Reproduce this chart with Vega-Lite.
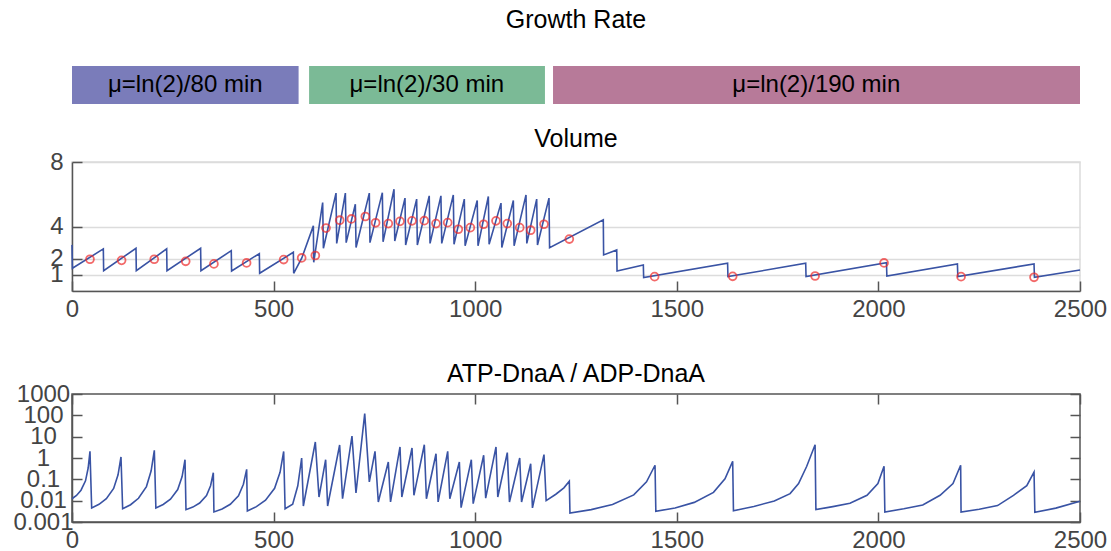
{
  "$schema": "https://vega.github.io/schema/vega-lite/v6.json",
  "padding": {"left": 12, "top": 8, "right": 0, "bottom": 0},
  "background": "white",
  "config": {
    "font": "Liberation Sans",
    "view": {"stroke": null},
    "title": {"font": "Liberation Sans", "fontSize": 25, "fontWeight": "normal", "color": "#000000", "anchor": "middle"},
    "axis": {"labelFont": "Liberation Sans", "labelFontSize": 24, "labelColor": "#444444", "domainColor": "#555555", "domainWidth": 1.5, "tickColor": "#555555", "tickWidth": 1.5, "tickSize": -10, "labelPadding": 16, "grid": false, "labelFlush": false, "labelOverlap": false}
  },
  "datasets": {
    "rates": [
      {"start": 0, "end": 562, "mid": 281, "label": "μ=ln(2)/80 min"},
      {"start": 588, "end": 1173, "mid": 880, "label": "μ=ln(2)/30 min"},
      {"start": 1193, "end": 2500, "mid": 1846, "label": "μ=ln(2)/190 min"}
    ],
    "vol": [
      {"t": 0, "v": 2.86}, {"t": 1, "v": 1.41},
      {"t": 77.7, "v": 2.61}, {"t": 78.5, "v": 1.26},
      {"t": 158.7, "v": 2.65}, {"t": 159.5, "v": 1.26},
      {"t": 234.8, "v": 2.61}, {"t": 235.6, "v": 1.26},
      {"t": 319, "v": 2.65}, {"t": 319.8, "v": 1.26},
      {"t": 395, "v": 2.5}, {"t": 395.8, "v": 1.24},
      {"t": 464.6, "v": 2.32}, {"t": 465.4, "v": 1.1},
      {"t": 549, "v": 2.4}, {"t": 549.8, "v": 1.1},
      {"t": 570, "v": 2.05}, {"t": 598.6, "v": 4.04}, {"t": 599.5, "v": 1.78},
      {"t": 621.7, "v": 5.48}, {"t": 623.5, "v": 2.65},
      {"t": 654.8, "v": 6.07}, {"t": 656.5, "v": 2.95},
      {"t": 678, "v": 6.07}, {"t": 680, "v": 3.0},
      {"t": 702.7, "v": 5.38}, {"t": 704.5, "v": 2.7},
      {"t": 737.4, "v": 6.07}, {"t": 739, "v": 3.0},
      {"t": 769.7, "v": 6.1}, {"t": 771.5, "v": 3.05},
      {"t": 798.6, "v": 6.31}, {"t": 800.5, "v": 3.1},
      {"t": 825.9, "v": 5.76}, {"t": 827.5, "v": 2.85},
      {"t": 854.8, "v": 5.7}, {"t": 856.5, "v": 2.85},
      {"t": 886, "v": 5.9}, {"t": 888, "v": 2.95},
      {"t": 915, "v": 5.9}, {"t": 917, "v": 2.95},
      {"t": 945.7, "v": 5.96}, {"t": 947.5, "v": 2.9},
      {"t": 973, "v": 5.7}, {"t": 975, "v": 2.8},
      {"t": 1005, "v": 5.61}, {"t": 1007, "v": 2.8},
      {"t": 1032.6, "v": 5.86}, {"t": 1034.5, "v": 2.9},
      {"t": 1064, "v": 5.45}, {"t": 1066, "v": 2.7},
      {"t": 1094.6, "v": 5.61}, {"t": 1096.5, "v": 2.8},
      {"t": 1126, "v": 5.96}, {"t": 1128, "v": 2.95},
      {"t": 1152.5, "v": 5.7}, {"t": 1154.5, "v": 2.85},
      {"t": 1183, "v": 5.76}, {"t": 1184.5, "v": 2.69},
      {"t": 1317.7, "v": 4.41}, {"t": 1318.5, "v": 2.24},
      {"t": 1351, "v": 2.55}, {"t": 1351.8, "v": 1.24},
      {"t": 1417, "v": 1.61}, {"t": 1417.8, "v": 0.83},
      {"t": 1626, "v": 1.72}, {"t": 1626.8, "v": 0.89},
      {"t": 1819.7, "v": 1.72}, {"t": 1820.5, "v": 0.89},
      {"t": 2020, "v": 1.76}, {"t": 2021, "v": 0.93},
      {"t": 2196, "v": 1.68}, {"t": 2197, "v": 0.89},
      {"t": 2386, "v": 1.68}, {"t": 2387, "v": 0.85},
      {"t": 2500, "v": 1.3}
    ],
    "init": [
      {"t": 44.6, "v": 1.97}, {"t": 123, "v": 1.9}, {"t": 204, "v": 1.97}, {"t": 282, "v": 1.84},
      {"t": 352, "v": 1.68}, {"t": 433, "v": 1.74}, {"t": 525, "v": 1.95}, {"t": 569.6, "v": 2.05},
      {"t": 603.5, "v": 2.2}, {"t": 630, "v": 3.9}, {"t": 664, "v": 4.39}, {"t": 693, "v": 4.47},
      {"t": 727.5, "v": 4.62}, {"t": 753, "v": 4.23}, {"t": 784.5, "v": 4.18}, {"t": 813.5, "v": 4.32},
      {"t": 843.3, "v": 4.35}, {"t": 873.8, "v": 4.36}, {"t": 902.8, "v": 4.18}, {"t": 931.8, "v": 4.24},
      {"t": 958.1, "v": 3.83}, {"t": 987.9, "v": 3.93}, {"t": 1021, "v": 4.14}, {"t": 1051.6, "v": 4.35},
      {"t": 1079.6, "v": 4.18}, {"t": 1110.4, "v": 3.93}, {"t": 1137.6, "v": 3.77}, {"t": 1170.6, "v": 4.14},
      {"t": 1233.4, "v": 3.22}, {"t": 1445, "v": 0.89}, {"t": 1638.6, "v": 0.91}, {"t": 1843, "v": 0.93},
      {"t": 2014, "v": 1.74}, {"t": 2205, "v": 0.89}, {"t": 2386, "v": 0.85}
    ],
    "atp": [
      {"t": 0, "r": 0.0123}, {"t": 11.2, "r": 0.0176}, {"t": 22.3, "r": 0.0309}, {"t": 33.5, "r": 0.0851}, {"t": 40.1, "r": 0.339}, {"t": 44.6, "r": 2.04},
      {"t": 48.8, "r": 0.00457}, {"t": 67, "r": 0.00676}, {"t": 85.2, "r": 0.0123}, {"t": 103.3, "r": 0.0372}, {"t": 114.2, "r": 0.162}, {"t": 121.5, "r": 1.12},
      {"t": 125.6, "r": 0.00417}, {"t": 145.3, "r": 0.00646}, {"t": 164.9, "r": 0.0129}, {"t": 184.6, "r": 0.0457}, {"t": 196.3, "r": 0.251}, {"t": 204.2, "r": 2.29},
      {"t": 208, "r": 0.00457}, {"t": 226.1, "r": 0.00661}, {"t": 244.2, "r": 0.0117}, {"t": 262.2, "r": 0.0331}, {"t": 273.1, "r": 0.135}, {"t": 280.3, "r": 0.832},
      {"t": 282.7, "r": 0.0038}, {"t": 299.7, "r": 0.00501}, {"t": 316.6, "r": 0.00776}, {"t": 333.6, "r": 0.0174}, {"t": 343.7, "r": 0.0501}, {"t": 350.5, "r": 0.204},
      {"t": 352, "r": 0.00295}, {"t": 372.3, "r": 0.00407}, {"t": 392.6, "r": 0.00676}, {"t": 412.9, "r": 0.017}, {"t": 425.1, "r": 0.0589}, {"t": 433.2, "r": 0.295},
      {"t": 434.9, "r": 0.00331}, {"t": 457.4, "r": 0.00525}, {"t": 480, "r": 0.0105}, {"t": 502.5, "r": 0.038}, {"t": 516, "r": 0.214}, {"t": 525, "r": 2.04},
      {"t": 528.5, "r": 0.00417}, {"t": 547.3, "r": 0.00676}, {"t": 560, "r": 0.0501}, {"t": 569.6, "r": 1.0},
      {"t": 573.8, "r": 0.00562}, {"t": 603.5, "r": 5.62},
      {"t": 612.6, "r": 0.0148}, {"t": 629.1, "r": 0.832},
      {"t": 634, "r": 0.00562}, {"t": 663.8, "r": 4.07},
      {"t": 671, "r": 0.0123}, {"t": 694.4, "r": 10.7},
      {"t": 704.3, "r": 0.0229}, {"t": 726, "r": 120},
      {"t": 737.4, "r": 0.0759}, {"t": 751.5, "r": 2.04},
      {"t": 759.7, "r": 0.0087}, {"t": 784.5, "r": 0.646},
      {"t": 790, "r": 0.0087}, {"t": 813.5, "r": 3.31},
      {"t": 818, "r": 0.0148}, {"t": 843.3, "r": 2.95},
      {"t": 848, "r": 0.0178}, {"t": 873.8, "r": 4.17},
      {"t": 879, "r": 0.0123}, {"t": 902.8, "r": 1.58},
      {"t": 908, "r": 0.0087}, {"t": 931.8, "r": 2.04},
      {"t": 937, "r": 0.0123}, {"t": 960.7, "r": 0.646},
      {"t": 965, "r": 0.00468}, {"t": 990.4, "r": 0.832},
      {"t": 995, "r": 0.00724}, {"t": 1021, "r": 1.35},
      {"t": 1026, "r": 0.0132}, {"t": 1051.6, "r": 3.31},
      {"t": 1056, "r": 0.0148}, {"t": 1079.6, "r": 1.78},
      {"t": 1085, "r": 0.0087}, {"t": 1110.4, "r": 1.0},
      {"t": 1115, "r": 0.0087}, {"t": 1137.6, "r": 0.537},
      {"t": 1142, "r": 0.00457}, {"t": 1170.6, "r": 1.45},
      {"t": 1176, "r": 0.01}, {"t": 1200, "r": 0.02}, {"t": 1220, "r": 0.0398}, {"t": 1233.4, "r": 0.0813},
      {"t": 1235, "r": 0.00263}, {"t": 1287.75, "r": 0.0038}, {"t": 1340.5, "r": 0.0066}, {"t": 1393.25, "r": 0.0186}, {"t": 1424.9, "r": 0.0759}, {"t": 1446, "r": 0.457},
      {"t": 1448, "r": 0.00316}, {"t": 1495.7, "r": 0.00457}, {"t": 1543.3, "r": 0.0083}, {"t": 1591, "r": 0.0245}, {"t": 1619.5, "r": 0.105}, {"t": 1638.6, "r": 0.7},
      {"t": 1640.5, "r": 0.00339}, {"t": 1691, "r": 0.00537}, {"t": 1741.8, "r": 0.00955}, {"t": 1781, "r": 0.0214}, {"t": 1802, "r": 0.0631}, {"t": 1822, "r": 0.398}, {"t": 1843, "r": 4.17},
      {"t": 1845, "r": 0.0038}, {"t": 1887, "r": 0.00525}, {"t": 1929.5, "r": 0.00759}, {"t": 1971.75, "r": 0.0178}, {"t": 1998.8, "r": 0.0631}, {"t": 2014, "r": 0.407},
      {"t": 2016, "r": 0.00295}, {"t": 2063, "r": 0.00417}, {"t": 2110, "r": 0.00631}, {"t": 2153, "r": 0.0178}, {"t": 2185, "r": 0.0631}, {"t": 2204, "r": 0.457},
      {"t": 2205, "r": 0.00295}, {"t": 2250, "r": 0.00398}, {"t": 2295.5, "r": 0.00589}, {"t": 2335, "r": 0.0178}, {"t": 2368, "r": 0.0501}, {"t": 2386, "r": 0.219},
      {"t": 2388, "r": 0.00282}, {"t": 2440, "r": 0.00447}, {"t": 2500, "r": 0.00933}
    ]
  },
  "bounds": "flush",
  "spacing": 58,
  "vconcat": [
    {
      "title": {"text": "Growth Rate", "offset": 33},
      "width": 1008,
      "height": 38,
      "data": {"name": "rates"},
      "layer": [
        {
          "mark": {"type": "rect"},
          "encoding": {
            "x": {"field": "start", "type": "quantitative", "scale": {"domain": [0, 2500], "nice": false, "zero": false}, "axis": null},
            "x2": {"field": "end"},
            "color": {"field": "label", "type": "nominal", "legend": null,
              "scale": {"domain": ["μ=ln(2)/80 min", "μ=ln(2)/30 min", "μ=ln(2)/190 min"], "range": ["#7a7cba", "#7bba96", "#b77a99"]}}
          }
        },
        {
          "mark": {"type": "text", "font": "Liberation Sans", "fontSize": 24, "color": "#000000", "baseline": "middle", "align": "center"},
          "encoding": {
            "x": {"field": "mid", "type": "quantitative", "axis": null},
            "text": {"field": "label"}
          }
        }
      ]
    },
    {
      "bounds": "flush",
      "spacing": 103,
      "vconcat": [
        {
          "title": {"text": "Volume", "offset": -2},
          "width": 1008,
          "height": 129,
          "view": {"stroke": "#dcdcdc", "strokeWidth": 1.5},
          "layer": [
            {
              "data": {"name": "vol"},
              "mark": {"type": "line", "color": "#3953a4", "strokeWidth": 1.6},
              "encoding": {
                "x": {"field": "t", "type": "quantitative", "scale": {"domain": [0, 2500], "nice": false, "zero": false},
                  "axis": {"title": null, "values": [0, 500, 1000, 1500, 2000, 2500], "format": "d", "labelPadding": 16}},
                "y": {"field": "v", "type": "quantitative", "scale": {"domain": [0, 8], "nice": false},
                  "axis": {"title": null, "values": [1, 2, 4, 8], "grid": true, "gridColor": "#dcdcdc", "gridWidth": 1.5, "labelPadding": 19, "labelBaseline": "middle"}}
              }
            },
            {
              "data": {"name": "init"},
              "mark": {"type": "point", "shape": "circle", "filled": false, "color": "#ee2a2a", "size": 62, "strokeWidth": 1.8},
              "encoding": {
                "x": {"field": "t", "type": "quantitative", "scale": {"domain": [0, 2500], "nice": false, "zero": false},
                  "axis": {"title": null, "values": [0, 500, 1000, 1500, 2000, 2500], "format": "d", "labelPadding": 16}},
                "y": {"field": "v", "type": "quantitative", "scale": {"domain": [0, 8], "nice": false},
                  "axis": {"title": null, "values": [1, 2, 4, 8], "grid": true, "gridColor": "#dcdcdc", "gridWidth": 1.5, "labelPadding": 19, "labelBaseline": "middle"}}
              }
            }
          ]
        },
        {
          "title": {"text": "ATP-DnaA / ADP-DnaA", "offset": -5},
          "width": 1008,
          "height": 128,
          "view": {"stroke": "#555555", "strokeWidth": 1.5},
          "data": {"name": "atp"},
          "layer": [
            {
              "mark": {"type": "line", "color": "#3953a4", "strokeWidth": 1.6},
              "encoding": {
                "x": {"field": "t", "type": "quantitative", "scale": {"domain": [0, 2500], "nice": false, "zero": false},
                  "axis": {"title": null, "values": [0, 500, 1000, 1500, 2000, 2500], "format": "d", "labelPadding": 16}},
                "y": {"field": "r", "type": "quantitative", "scale": {"type": "log", "domain": [0.001, 1000], "nice": false},
                  "axis": {"title": null, "values": [0.001, 0.01, 0.1, 1, 10, 100, 1000], "format": "~g", "labelAlign": "center", "labelBaseline": "middle", "labelPadding": 39,
                    "labelExpr": "datum.value < 0.005 ? '0.001\u00a0\u00a0\u00a0\u00a0\u00a0' : datum.label"}}
              }
            },
            {
              "mark": {"type": "line", "opacity": 0},
              "encoding": {
                "x": {"field": "t", "type": "quantitative", "scale": {"domain": [0, 2500], "nice": false, "zero": false},
                  "axis": {"title": null, "orient": "top", "labels": false, "domain": false, "values": [0, 500, 1000, 1500, 2000, 2500]}},
                "y": {"field": "r", "type": "quantitative", "scale": {"type": "log", "domain": [0.001, 1000], "nice": false},
                  "axis": {"title": null, "orient": "right", "labels": false, "domain": false, "values": [0.001, 0.01, 0.1, 1, 10, 100, 1000]}}
              }
            }
          ],
          "resolve": {"axis": {"x": "independent", "y": "independent"}}
        }
      ]
    }
  ]
}
